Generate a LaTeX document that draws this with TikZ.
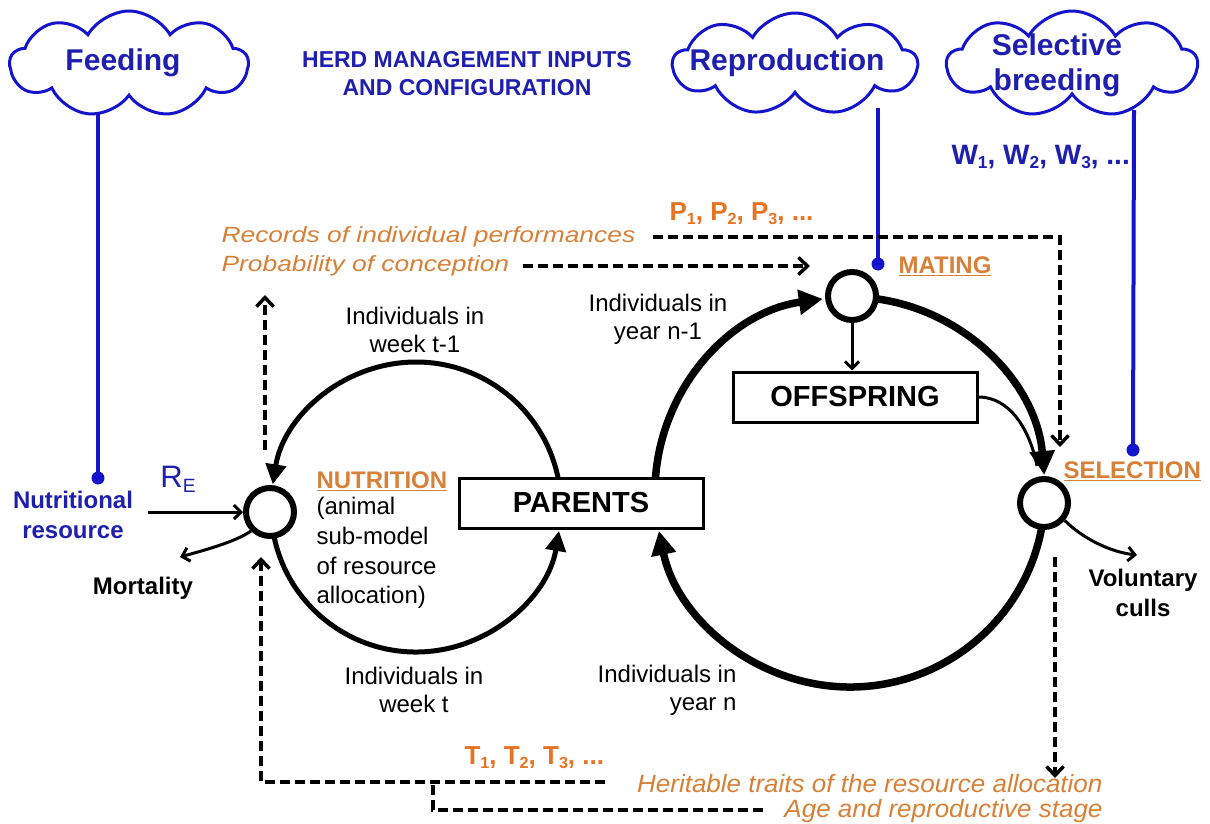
\documentclass[tikz,border=0pt]{standalone}
\usepackage{fontspec}
\setmainfont{Liberation Sans}
\usepackage{graphicx}
\usetikzlibrary{arrows.meta,shapes.symbols}
\definecolor{txtblue}{RGB}{30,30,175}
\definecolor{lineblue}{RGB}{20,20,205}
\definecolor{orng}{RGB}{232,115,35}
\definecolor{orng2}{RGB}{215,128,55}
\newcommand\sbs[1]{\raisebox{-0.3ex}{\scalebox{0.62}{#1}}}
\newcommand\hs[2]{\scalebox{#1}[1]{#2}}
\begin{document}
\begin{tikzpicture}[x=1pt,y=-1pt,
  cloudst/.style={cloud, draw=lineblue, line width=3pt, cloud puffs=9, cloud puff arc=120, aspect=2.2, inner sep=0pt},
  cloudtxt/.style={text=txtblue, font=\bfseries\fontsize{30}{35}\selectfont, align=center},
  bline/.style={draw=lineblue, line width=4pt},
  bdot/.style={fill=lineblue},
  ring/.style={circle, draw, line width=6pt, fill=white, minimum size=48pt, inner sep=0pt},
  boxst/.style={draw, line width=3pt, fill=white, minimum width=244pt, minimum height=50pt, font=\bfseries\fontsize{29}{30}\selectfont},
  lbl/.style={align=center, font=\fontsize{24}{28}\selectfont},
  blk/.style={align=center, font=\bfseries\fontsize{24}{30}\selectfont},
  head/.style={text=orng2, font=\bfseries\fontsize{24}{26}\selectfont},
  ital/.style={text=orng2, font=\itshape\fontsize{22}{26}\selectfont},
  ital2/.style={text=orng2, font=\itshape\fontsize{25}{28}\selectfont},
  ptxt/.style={text=orng, font=\bfseries\fontsize{26}{28}\selectfont},
  loopL/.style={line width=5pt, -{Triangle[length=20pt,width=20pt]}},
  loopR/.style={line width=7.5pt, -{Triangle[length=24pt,width=24pt]}},
  thinarr/.style={line width=3pt, -{Straight Barb[length=7pt,width=14pt]}},
  dsh/.style={line width=3.5pt, dash pattern=on 10pt off 5pt},
  dsharr/.style={dsh, -{Straight Barb[length=9pt,width=17pt]}}
]
\useasboundingbox (0,0) rectangle (1210,823);

% clouds
\node[cloudst, minimum width=238pt, minimum height=106pt] (feedC) at (129,64) {};
\node[cloudst, minimum width=244pt, minimum height=102pt] (reprC) at (795,64) {};
\node[cloudst, minimum width=250pt, minimum height=106pt] (selC) at (1072,64) {};
\node[cloudtxt] (feedT) at (123,63) {Feeding};
\node[cloudtxt] (reprT) at (787,63) {Reproduction};
\node[cloudtxt] (selT) at (1057,65) {Selective\\breeding};
\node[text=txtblue, align=center, font=\bfseries\fontsize{23}{28}\selectfont] (herd) at (467,74) {HERD MANAGEMENT INPUTS\\AND CONFIGURATION};

% W text
\node[text=txtblue, anchor=west, font=\bfseries\fontsize{28}{30}\selectfont] (wtxt) at (948,157) {W\sbs{1}, W\sbs{2}, W\sbs{3}, ...};

% loop centres
\coordinate (Lc) at (416,507);
\coordinate (Rc) at (850,492);

% thick loops
\draw[loopL] ([shift={(-5:145)}]Lc) arc[start angle=-5, end angle=-171, radius=145];
\draw[loopL] ([shift={(172:145)}]Lc) arc[start angle=172, end angle=9.5, radius=145];
\draw[loopR] ([shift={(180:195)}]Rc) arc[start angle=180, end angle=262, radius=195];
\draw[loopR] ([shift={(276:195)}]Rc) arc[start angle=276, end angle=355, radius=195];
\draw[loopR] ([shift={(8:195)}]Rc) arc[start angle=8, end angle=168.5, radius=195];

% rings and boxes
\node[ring] (nut) at (270,512) {};
\node[ring] (mat) at (852,296) {};
\node[ring] (sel) at (1044,503) {};
\node[boxst] (parents) at (581,503) {PARENTS};
\node[boxst] (offs) at (855,397) {OFFSPRING};

% offspring links
\draw[thinarr] (mat.south) -- (mat.south |- offs.north);
\coordinate (offin) at (1037,466);
\draw[line width=3pt] (offs.east) .. controls (1010,397) and (1030,430) .. (offin);

% blue lines
\coordinate (f1) at (98,114);  \coordinate (f2) at (98,478);
\coordinate (r1) at (878,108); \coordinate (r2) at (878,264);
\coordinate (s1) at (1134,110); \coordinate (s2) at (1133,450);
\draw[bline] (f1) -- (f2); \fill[bdot] (f2) circle (6.5pt);
\draw[bline] (r1) -- (r2); \fill[bdot] (r2) circle (6.5pt);
\draw[bline] (s1) -- (s2); \fill[bdot] (s2) circle (6.5pt);

% nutritional resource
\node[text=txtblue, align=center, font=\bfseries\fontsize{24}{30}\selectfont] (nutres) at (73,515) {Nutritional\\resource};
\node[text=txtblue, font=\fontsize{31}{32}\selectfont] (re) at (178,479) {R\sbs{E}};
\coordinate (nrs) at (148,512);
\draw[thinarr] (nrs) -- (nut.west);
\coordinate (mortend) at (180,557);
\draw[thinarr] (nut.225) .. controls (235,542) and (205,550) .. (mortend);
\node[blk] (mort) at (143,588) {Mortality};
\coordinate (volend) at (1137,555);
\draw[thinarr] (sel.-40) .. controls (1082,538) and (1110,552) .. (volend);
\node[blk] (vol) at (1143,593) {Voluntary\\culls};

% headings
\node[head, anchor=west] (nuth) at (313,481) {\underline{NUTRITION}};
\node[lbl, align=left, anchor=west, font=\fontsize{24}{29.7}\selectfont] (nutd) at (313,553) {(animal\\sub-model\\of resource\\allocation)};
\node[head, anchor=west] (math) at (895,266) {\underline{MATING}};
\node[head, anchor=west] (selh) at (1060,471) {\underline{SELECTION}};

% black labels
\node[lbl] (lw1) at (415,330) {Individuals in\\week t-1};
\node[lbl] (ly1) at (658,319) {Individuals in\\year n-1};
\node[lbl] (lw2) at (414,690) {Individuals in\\week t};
\node[lbl, align=right, anchor=east] (ly2) at (740,690) {Individuals in\\year n};

% orange texts
\node[ptxt, anchor=west] (ptx) at (666,214) {P\sbs{1}, P\sbs{2}, P\sbs{3}, ...};
\node[ital, anchor=west] (rec) at (218,237) {\hs{1.2}{Records of individual performances}};
\node[ital, anchor=west] (prob) at (218,266) {\hs{1.2}{Probability of conception}};
\node[ptxt, anchor=west] (ttx) at (461,758) {T\sbs{1}, T\sbs{2}, T\sbs{3}, ...};
\node[ital2, anchor=east] (her) at (1106,784) {\hs{1.04}{Heritable traits of the resource allocation}};
\node[ital2, anchor=east] (age) at (1106,811) {\hs{1.04}{Age and reproductive stage}};

% dashed connectors
\coordinate (d1) at (1060,236);
\coordinate (d2) at (1060,447);
\draw[dsharr] ([xshift=14pt]rec.east) -- (rec.east -| d1) -- (d2);
\coordinate (d3) at (810,266);
\draw[dsharr] ([xshift=10pt]prob.east) -- (d3);
\coordinate (v1) at (265,450); \coordinate (v2) at (265,295);
\draw[dsharr] (v1) -- (v2);
\coordinate (b1) at (605,782); \coordinate (b2) at (261,782); \coordinate (b3) at (261,557);
\draw[dsharr] (b1) -- (b2) -- (b3);
\coordinate (b4) at (763,810); \coordinate (b5) at (433,810); \coordinate (b6) at (433,782);
\draw[dsh] (b4) -- (b5) -- (b6);
\coordinate (v3) at (1055,557); \coordinate (v4) at (1055,778);
\draw[dsharr] (v3) -- (v4);
\end{tikzpicture}
\end{document}
